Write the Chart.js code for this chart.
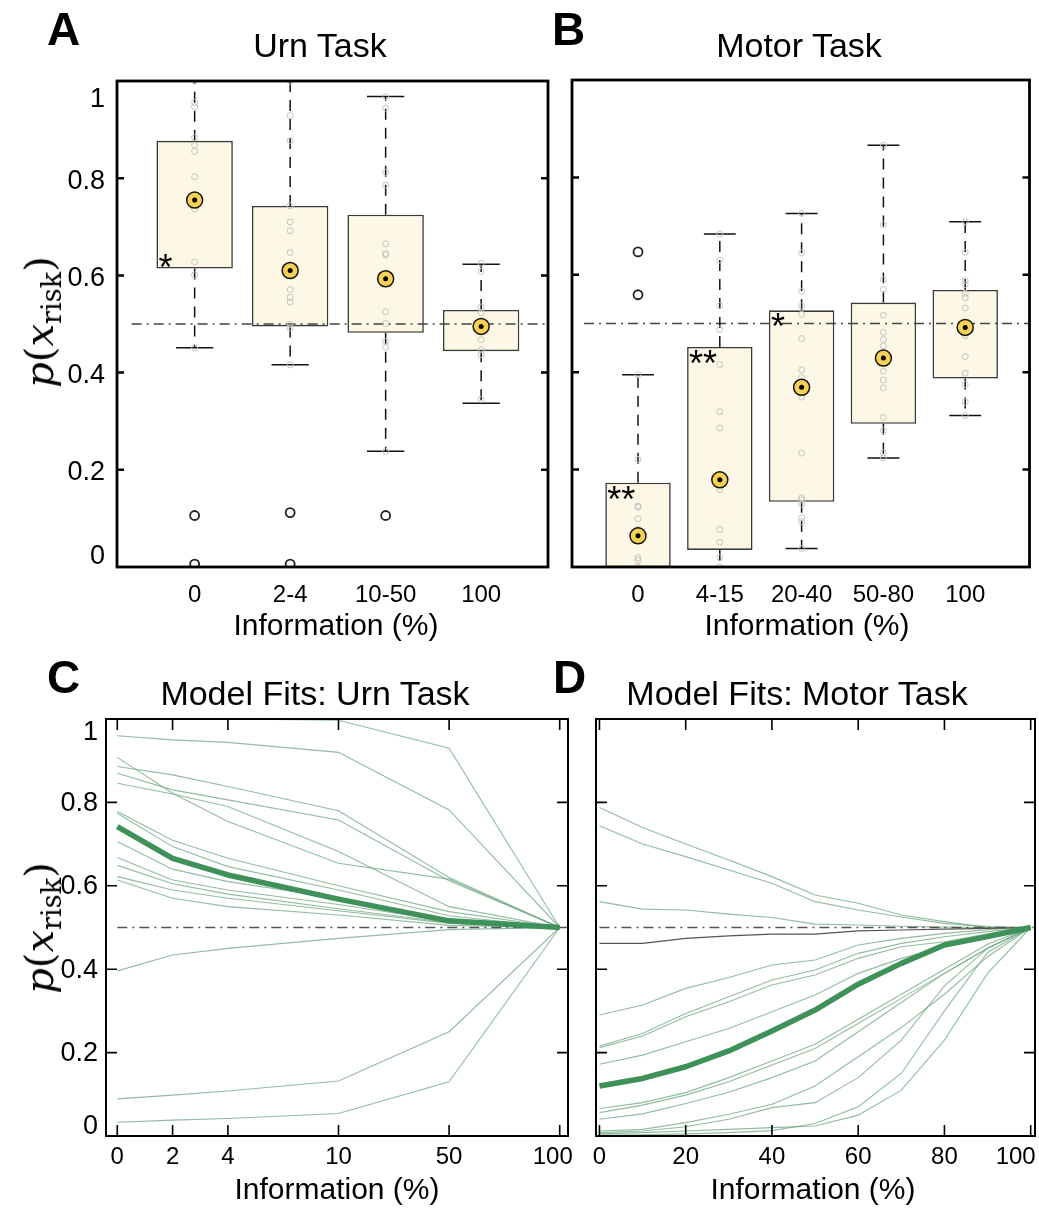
<!DOCTYPE html>
<html>
<head>
<meta charset="utf-8">
<title>Urn and motor task</title>
<script src="https://cdn.jsdelivr.net/npm/chart.js@4.4.1/dist/chart.umd.min.js"></script>
<style>
  body { margin: 0; background: #fff; }
  #figure { position: relative; width: 1039px; height: 1209px; overflow: hidden;
            font-family: "Liberation Sans", Arial, sans-serif; color: #000; }
  #figure canvas { position: absolute; }
  .txt { position: absolute; line-height: 1; white-space: nowrap; }
  .letter { font-size: 46px; font-weight: bold; }
  .title { font-size: 34px; transform: translateX(-50%); }
  .xtitle { font-size: 30px; transform: translateX(-50%); }
  .ytitle { font-family: "DejaVu Serif", serif; font-size: 40px;
            transform: translate(-50%, -50%) rotate(-90deg); }
  .ytitle sub { font-size: 0.68em; vertical-align: -0.3em; line-height: 0; }
</style>
</head>
<body>
<div id="figure">
  <canvas id="chartA" width="560" height="650" style="left:0;top:0"></canvas>
  <canvas id="chartB" width="479" height="650" style="left:560px;top:0"></canvas>
  <canvas id="chartC" width="580" height="559" style="left:0;top:650px"></canvas>
  <canvas id="chartD" width="459" height="559" style="left:580px;top:650px"></canvas>

  <div class="txt letter" style="left:47px;top:6px">A</div>
  <div class="txt letter" style="left:552px;top:6px">B</div>
  <div class="txt letter" style="left:47px;top:654px">C</div>
  <div class="txt letter" style="left:553px;top:654px">D</div>

  <div class="txt title" style="left:320px;top:28px">Urn Task</div>
  <div class="txt title" style="left:799px;top:28px">Motor Task</div>
  <div class="txt title" style="left:315px;top:676px">Model Fits: Urn Task</div>
  <div class="txt title" style="left:797px;top:676px">Model Fits: Motor Task</div>

  <div class="txt xtitle" style="left:336px;top:610px">Information (%)</div>
  <div class="txt xtitle" style="left:807px;top:610px">Information (%)</div>
  <div class="txt xtitle" style="left:337px;top:1174px">Information (%)</div>
  <div class="txt xtitle" style="left:813px;top:1174px">Information (%)</div>

  <div class="txt ytitle" style="left:39px;top:322px"><i>p</i>(<i>x</i><sub>risk</sub>)</div>
  <div class="txt ytitle" style="left:39px;top:928px"><i>p</i>(<i>x</i><sub>risk</sub>)</div>
</div>

<script>
// ---------- DATA ----------
const chance = 0.5;
const yTickValues = [0, 0.2, 0.4, 0.6, 0.8, 1];

// A: urn task, box plots
const urnGroups = ['0', '2-4', '10-50', '100'];
const urnQ1 = [0.614, 0.495, 0.482, 0.444];
const urnQ3 = [0.877, 0.743, 0.725, 0.529];
const urnLow = [0.451, 0.416, 0.238, 0.337];
const urnHigh = [1.0, 1.0, 0.968, 0.623];
const urnMean = [0.755, 0.610, 0.593, 0.495];
const urnOutliers = [[0.106, 0.006], [0.112, 0.006], [0.106], []];
const urnSubjects = [
  [1.0, 0.956, 0.947, 0.884, 0.868, 0.855, 0.803, 0.737, 0.628, 0.601, 0.451],
  [1.0, 0.929, 0.877, 0.743, 0.710, 0.692, 0.647, 0.571, 0.555, 0.545, 0.499, 0.492, 0.416],
  [0.968, 0.944, 0.812, 0.786, 0.665, 0.645, 0.642, 0.525, 0.501, 0.464, 0.452, 0.238],
  [0.625, 0.608, 0.535, 0.523, 0.485, 0.468, 0.447, 0.437, 0.345]
];
const urnSig = ['*', '', '', ''];

// B: motor task, box plots
const motorGroups = ['0', '4-15', '20-40', '50-80', '100'];
const motorQ1 = [0.0, 0.035, 0.134, 0.294, 0.387];
const motorQ3 = [0.173, 0.452, 0.527, 0.543, 0.569];
const motorLow = [0.0, 0.0, 0.038, 0.224, 0.311];
const motorHigh = [0.395, 0.684, 0.726, 0.866, 0.709];
const motorMean = [0.064, 0.179, 0.369, 0.429, 0.492];
const motorOutliers = [[0.647, 0.559], [], [], [], []];
const motorSubjects = [
  [0.395, 0.221, 0.125, 0.123, 0.099, 0.077, 0.019, 0.014, 0.0],
  [0.684, 0.630, 0.537, 0.488, 0.416, 0.319, 0.285, 0.158, 0.077, 0.051, 0.019, 0.0],
  [0.726, 0.645, 0.566, 0.536, 0.519, 0.469, 0.405, 0.389, 0.349, 0.234, 0.142, 0.138, 0.129, 0.101, 0.093, 0.038],
  [0.866, 0.703, 0.590, 0.570, 0.517, 0.482, 0.467, 0.454, 0.418, 0.402, 0.384, 0.368, 0.307, 0.280, 0.235, 0.224],
  [0.709, 0.646, 0.588, 0.580, 0.562, 0.553, 0.532, 0.475, 0.432, 0.398, 0.375, 0.339, 0.311]
];
const motorSig = ['**', '**', '*', '', ''];

// C: model fits, urn task
const urnFitInfo = [0, 2, 4, 10, 50, 100];
const urnFitMean = [0.742, 0.666, 0.626, 0.568, 0.516, 0.5];
const urnFitSubjects = [
  [1.0, 1.0, 1.0, 0.997, 0.93, 0.5],
  [0.96, 0.95, 0.944, 0.92, 0.782, 0.5],
  [0.908, 0.822, 0.754, 0.654, 0.616, 0.5],
  [0.886, 0.866, 0.838, 0.78, 0.62, 0.5],
  [0.87, 0.83, 0.806, 0.758, 0.612, 0.5],
  [0.846, 0.82, 0.79, 0.682, 0.55, 0.5],
  [0.778, 0.709, 0.666, 0.60, 0.538, 0.5],
  [0.774, 0.694, 0.646, 0.59, 0.528, 0.5],
  [0.706, 0.64, 0.61, 0.57, 0.52, 0.5],
  [0.668, 0.614, 0.59, 0.555, 0.515, 0.5],
  [0.649, 0.605, 0.58, 0.545, 0.512, 0.5],
  [0.622, 0.59, 0.57, 0.54, 0.51, 0.5],
  [0.614, 0.57, 0.55, 0.53, 0.505, 0.5],
  [0.396, 0.434, 0.45, 0.474, 0.495, 0.5],
  [0.089, 0.098, 0.108, 0.132, 0.25, 0.5],
  [0.033, 0.038, 0.042, 0.054, 0.13, 0.5]
];

// D: model fits, motor task
const motorFitInfo = [0, 10, 20, 30, 40, 50, 60, 70, 80, 90, 100];
const motorFitMean = [0.12, 0.138, 0.166, 0.204, 0.252, 0.302, 0.364, 0.414, 0.458, 0.478, 0.5];
const motorFitOddSubject = [0.462, 0.462, 0.474, 0.48, 0.484, 0.484, 0.492, 0.494, 0.496, 0.498, 0.5];
const motorFitSubjects = [
  [0.788, 0.74, 0.70, 0.662, 0.622, 0.578, 0.558, 0.53, 0.514, 0.5, 0.5],
  [0.744, 0.70, 0.67, 0.638, 0.606, 0.562, 0.542, 0.525, 0.51, 0.502, 0.5],
  [0.562, 0.544, 0.542, 0.532, 0.524, 0.508, 0.506, 0.503, 0.501, 0.5, 0.5],
  [0.29, 0.314, 0.354, 0.38, 0.41, 0.422, 0.458, 0.474, 0.486, 0.495, 0.5],
  [0.216, 0.246, 0.294, 0.334, 0.374, 0.398, 0.438, 0.462, 0.478, 0.49, 0.5],
  [0.212, 0.24, 0.286, 0.322, 0.362, 0.386, 0.426, 0.454, 0.466, 0.485, 0.5],
  [0.172, 0.194, 0.226, 0.258, 0.298, 0.338, 0.39, 0.426, 0.454, 0.48, 0.5],
  [0.066, 0.08, 0.104, 0.14, 0.18, 0.22, 0.28, 0.34, 0.40, 0.46, 0.5],
  [0.056, 0.074, 0.098, 0.13, 0.17, 0.21, 0.27, 0.33, 0.39, 0.45, 0.5],
  [0.040, 0.053, 0.078, 0.105, 0.14, 0.18, 0.25, 0.32, 0.39, 0.45, 0.5],
  [0.012, 0.016, 0.032, 0.052, 0.076, 0.12, 0.19, 0.26, 0.34, 0.43, 0.5],
  [0.008, 0.012, 0.022, 0.04, 0.068, 0.08, 0.14, 0.23, 0.36, 0.45, 0.5],
  [0.005, 0.008, 0.012, 0.016, 0.02, 0.024, 0.05, 0.11, 0.23, 0.39, 0.5],
  [0.002, 0.003, 0.005, 0.008, 0.013, 0.03, 0.07, 0.15, 0.30, 0.44, 0.5]
];

// urn fit axis is ordinal: ticks evenly spaced with gaps between 4/10, 10/50, 50/100
const urnInfoSlot = { 0: 0, 2: 1, 4: 2, 10: 4, 50: 6, 100: 8 };

// ---------- STYLE ----------
Chart.defaults.font.family = '"Liberation Sans", Arial, sans-serif';
Chart.defaults.color = '#000';
Chart.defaults.animation = false;

const FILL_BOX = '#fdf8e5';
const YELLOW = '#f7d154';
const THIN_GREEN = 'rgba(110,165,128,0.75)';
const THICK_GREEN = '#3e9158';

// frame, inward ticks, tick labels and significance stars
const frameStyle = {
  id: 'frameStyle',
  afterDatasetsDraw(chart, args, o) {
    const { ctx, chartArea: a } = chart;
    const xs = chart.scales.x, ys = chart.scales.y;
    ctx.save();
    (o.stars || []).forEach(s => {
      ctx.font = '36px "Liberation Sans", Arial, sans-serif';
      ctx.fillStyle = '#000';
      ctx.textAlign = 'left';
      ctx.textBaseline = 'alphabetic';
      ctx.fillText(s.text, xs.getPixelForValue(s.x) + 2, ys.getPixelForValue(s.y) + s.dy);
    });
    ctx.strokeStyle = '#000';
    ctx.lineWidth = o.tickWidth;
    ctx.beginPath();
    [0.2, 0.4, 0.6, 0.8].forEach(v => {
      const py = ys.getPixelForValue(v);
      ctx.moveTo(a.left, py); ctx.lineTo(a.left + o.tickLen, py);
      ctx.moveTo(a.right, py); ctx.lineTo(a.right - o.tickLen, py);
    });
    (o.xTicks || []).forEach(v => {
      const px = xs.getPixelForValue(v);
      ctx.moveTo(px, a.top); ctx.lineTo(px, a.top + o.tickLen);
      ctx.moveTo(px, a.bottom); ctx.lineTo(px, a.bottom - o.tickLen);
    });
    ctx.stroke();
    ctx.lineWidth = o.frameWidth;
    ctx.strokeRect(a.left, a.top, a.right - a.left, a.bottom - a.top);
    ctx.fillStyle = '#000';
    if (o.yLabels) {
      ctx.font = '27px "Liberation Sans", Arial, sans-serif';
      ctx.textAlign = 'right';
      ctx.textBaseline = 'middle';
      yTickValues.forEach(v => {
        let dy = o.yLabels.shift;
        if (v === 1) dy = o.yLabels.top;
        if (v === 0) dy = o.yLabels.bottom;
        ctx.fillText(String(v), a.left - o.yLabels.gap, ys.getPixelForValue(v) + dy);
      });
    }
    if (o.xLabels) {
      ctx.font = '24px "Liberation Sans", Arial, sans-serif';
      ctx.textAlign = 'center';
      ctx.textBaseline = 'middle';
      const n = o.xTicks.length;
      o.xTicks.forEach((v, i) => {
        const shift = i === n - 1 ? o.xLabels.lastShift : 0;
        ctx.fillText(o.xLabels.texts[i], xs.getPixelForValue(v) + shift, a.bottom + o.xLabels.dy);
      });
    }
    ctx.restore();
  }
};

function fixedX(height) {
  return s => { s.height = height; s.paddingLeft = 0; s.paddingRight = 0; };
}
function fixedY(width) {
  return s => { s.width = width; s.paddingTop = 0; s.paddingBottom = 0; };
}

// ---------- BOX PLOT PANELS ----------
function boxPlotChart(id, d) {
  const pos = d.groups.map((g, i) => i + 1);
  const capHalf = 0.195;
  const whiskers = [], caps = [], subj = [], outl = [], means = [];
  pos.forEach((x, i) => {
    whiskers.push({ x, y: d.q3[i] }, { x, y: d.high[i] }, { x, y: null });
    whiskers.push({ x, y: d.q1[i] }, { x, y: d.low[i] }, { x, y: null });
    [d.high[i], d.low[i]].forEach(v => {
      caps.push({ x: x - capHalf, y: v }, { x: x + capHalf, y: v }, { x, y: null });
    });
    d.subjects[i].forEach(v => subj.push({ x, y: v }));
    d.outliers[i].forEach(v => outl.push({ x, y: v }));
    means.push({ x, y: d.mean[i] });
  });
  const stars = [];
  d.sig.forEach((t, i) => {
    if (!t) return;
    const edge = d.sigAnchor === 'q1' ? d.q1[i] : d.q3[i];
    stars.push({ text: t, x: pos[i] - 0.4, y: edge, dy: d.sigAnchor === 'q1' ? 11 : 29 });
  });
  return new Chart(document.getElementById(id), {
    type: 'bar',
    data: {
      datasets: [
        { type: 'bar', order: 10, data: pos.map((x, i) => ({ x, y: [d.q1[i], d.q3[i]] })),
          backgroundColor: FILL_BOX, borderColor: '#3a3a3a', borderWidth: 1.6, borderSkipped: false,
          barPercentage: 0.8, categoryPercentage: 1 },
        { type: 'line', order: 9, data: [{ x: 0.34, y: chance }, { x: d.xMax, y: chance }],
          borderColor: '#444', borderWidth: 1.5, borderDash: [10, 5, 2, 5], pointRadius: 0 },
        { type: 'line', order: 8, data: whiskers, borderColor: '#111', borderWidth: 1.5,
          borderDash: [11, 8], pointRadius: 0, spanGaps: false },
        { type: 'line', order: 7, data: caps, borderColor: '#111', borderWidth: 1.5,
          pointRadius: 0, spanGaps: false },
        { type: 'line', order: 6, data: subj, showLine: false, pointRadius: 3,
          pointBorderColor: '#c4c4c4', pointBackgroundColor: 'rgba(0,0,0,0)', pointBorderWidth: 1 },
        { type: 'line', order: 5, data: outl, showLine: false, pointRadius: 4.5,
          pointBorderColor: '#222', pointBackgroundColor: 'rgba(0,0,0,0)', pointBorderWidth: 1.8 },
        { type: 'line', order: 2, data: means, showLine: false, pointRadius: 8,
          pointBackgroundColor: YELLOW, pointBorderColor: '#111', pointBorderWidth: 1.5 },
        { type: 'line', order: 1, data: means, showLine: false, pointRadius: 2.5,
          pointBackgroundColor: '#000', pointBorderColor: '#000', pointBorderWidth: 0 }
      ]
    },
    options: {
      responsive: false,
      events: [],
      layout: { padding: { top: d.top, right: d.right, left: 0, bottom: 0 } },
      plugins: {
        legend: { display: false }, tooltip: { enabled: false },
        frameStyle: { frameWidth: 2.8, tickWidth: 2.5, tickLen: 7, stars,
                      yLabels: d.yLabels ? { gap: 12, shift: 3, top: 19, bottom: -10 } : null }
      },
      scales: {
        x: { type: 'linear', min: d.xMin, max: d.xMax, offset: false,
             afterBuildTicks: s => { s.ticks = pos.map(v => ({ value: v })); },
             afterFit: fixedX(d.bottomH),
             grid: { display: false, drawTicks: false }, border: { display: false },
             ticks: { autoSkip: false, maxRotation: 0, padding: 14, color: '#000',
                      font: { size: 24 }, callback: (v, i) => d.groups[i] } },
        y: { min: 0, max: 1, afterFit: fixedY(d.leftW),
             grid: { display: false, drawTicks: false }, border: { display: false },
             ticks: { display: false } }
      }
    },
    plugins: [frameStyle]
  });
}

boxPlotChart('chartA', {
  groups: urnGroups, q1: urnQ1, q3: urnQ3, low: urnLow, high: urnHigh, mean: urnMean,
  subjects: urnSubjects, outliers: urnOutliers, sig: urnSig, sigAnchor: 'q1',
  xMin: 0.187, xMax: 4.70, top: 81, right: 12, leftW: 117, bottomH: 83, yLabels: true
});
boxPlotChart('chartB', {
  groups: motorGroups, q1: motorQ1, q3: motorQ3, low: motorLow, high: motorHigh, mean: motorMean,
  subjects: motorSubjects, outliers: motorOutliers, sig: motorSig, sigAnchor: 'q3',
  xMin: 0.193, xMax: 5.786, top: 80, right: 5, leftW: 12, bottomH: 83, yLabels: false
});

// ---------- MODEL FIT PANELS ----------
function fitChart(id, d) {
  const toXY = row => row.map((v, i) => ({ x: d.slot(d.info[i]), y: v }));
  const datasets = d.subjects.map(row => ({
    data: toXY(row), borderColor: THIN_GREEN, borderWidth: 1.1, pointRadius: 0, order: 4
  }));
  if (d.odd) {
    datasets.push({ data: toXY(d.odd), borderColor: '#555', borderWidth: 1.1, pointRadius: 0, order: 3 });
  }
  datasets.push({ data: [{ x: 0, y: chance }, { x: d.xMax, y: chance }], borderColor: '#555',
                  borderWidth: 1.5, borderDash: [10, 5, 2, 5], pointRadius: 0, order: 2 });
  datasets.push({ data: toXY(d.mean), borderColor: THICK_GREEN, borderWidth: 5.5,
                  pointRadius: 0, order: 1, borderJoinStyle: 'round' });
  const tickVals = d.labelled.map(d.slot);
  return new Chart(document.getElementById(id), {
    type: 'line',
    data: { datasets },
    options: {
      responsive: false,
      events: [],
      layout: { padding: { top: d.top, right: d.right, left: 0, bottom: 0 } },
      plugins: {
        legend: { display: false }, tooltip: { enabled: false },
        frameStyle: { frameWidth: 2, tickWidth: 1.6, tickLen: 11, xTicks: tickVals,
                      xLabels: { texts: d.labelled.map(String), dy: 21, lastShift: d.lastShift },
                      yLabels: d.yLabels ? { gap: 8, shift: 1, top: 14, bottom: -9 } : null }
      },
      scales: {
        x: { type: 'linear', min: d.xMin, max: d.xMax, offset: false,
             afterFit: fixedX(d.bottomH),
             grid: { display: false, drawTicks: false }, border: { display: false },
             ticks: { display: false } },
        y: { min: 0, max: 1, afterFit: fixedY(d.leftW),
             grid: { display: false, drawTicks: false }, border: { display: false },
             ticks: { display: false } }
      }
    },
    plugins: [frameStyle]
  });
}

fitChart('chartC', {
  info: urnFitInfo, mean: urnFitMean, subjects: urnFitSubjects, odd: null,
  slot: v => urnInfoSlot[v], labelled: [0, 2, 4, 10, 50, 100], lastShift: -7,
  xMin: -0.204, xMax: 8.15, top: 69, right: 12, leftW: 106, bottomH: 73, yLabels: true
});
fitChart('chartD', {
  info: motorFitInfo, mean: motorFitMean, subjects: motorFitSubjects, odd: motorFitOddSubject,
  slot: v => v, labelled: [0, 20, 40, 60, 80, 100], lastShift: -15,
  xMin: -0.8, xMax: 101, top: 69, right: 4, leftW: 16, bottomH: 73, yLabels: false
});
</script>
</body>
</html>
